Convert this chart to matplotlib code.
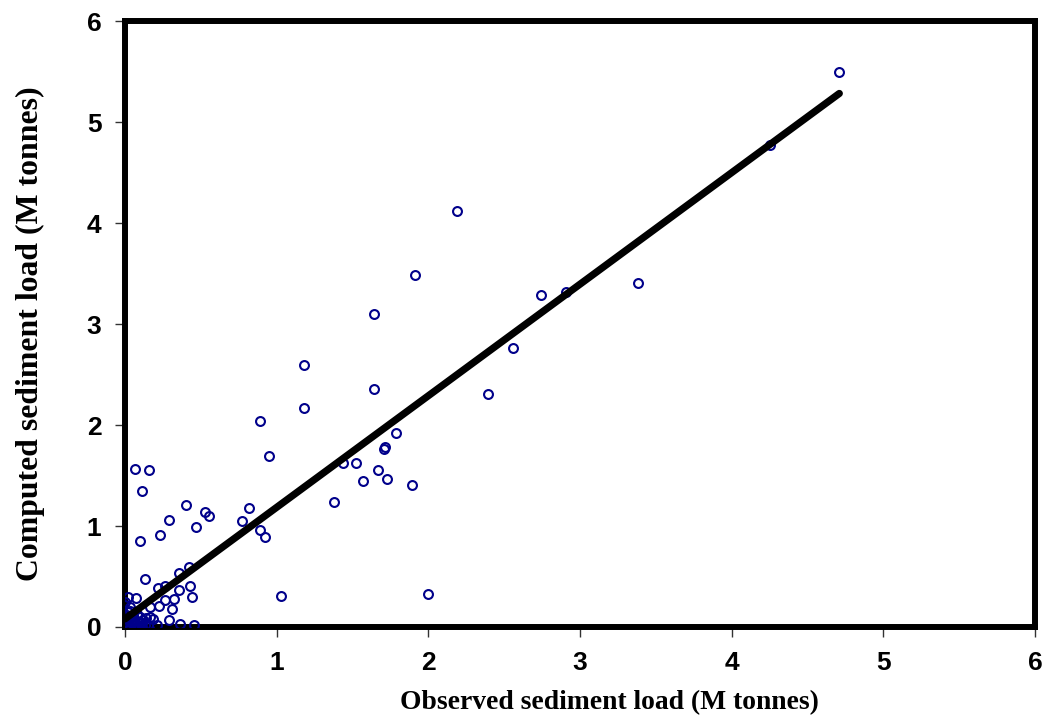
import matplotlib
matplotlib.use("Agg")
import matplotlib.pyplot as plt
import numpy as np

# Observed vs computed sediment load (million tonnes)
observed = [
    4.71, 4.25, 3.385, 2.91, 2.745, 2.56, 2.395, 2.19, 1.915, 1.64, 1.645,
    1.18, 1.18, 1.79, 1.717, 1.705, 1.67, 1.525, 1.44, 1.57, 1.73, 1.89,
    1.38, 1.995, 1.03, 0.89, 0.95, 0.82, 0.77, 0.89, 0.925, 0.557, 0.53,
    0.405, 0.47, 0.287, 0.23, 0.096, 0.063, 0.16, 0.115,
    0.135, 0.22, 0.267, 0.353, 0.42, 0.43, 0.353, 0.445, 0.326, 0.267,
    0.227, 0.168, 0.313, 0.07, 0.023, 0.003, 0.036, 0.023, 0.168, 0.188,
    0.214, 0.287, 0.36, 0.458, 0.155, 0.10,
    0.01, 0.02, 0.03, 0.04, 0.05, 0.06, 0.07, 0.08, 0.09, 0.10, 0.11,
    0.12, 0.13, 0.02, 0.05, 0.0, 0.015, 0.035, 0.08, 0.14, 0.06, 0.11,
    0.03,
]
computed = [
    5.50, 4.77, 3.41, 3.32, 3.29, 2.76, 2.31, 4.12, 3.49, 3.10, 2.36,
    2.59, 2.17, 1.92, 1.78, 1.76, 1.55, 1.62, 1.62, 1.45, 1.47, 1.41,
    1.24, 0.33, 0.31, 2.04, 1.69, 1.18, 1.05, 0.96, 0.89, 1.10, 1.14,
    1.21, 0.99, 1.06, 0.91, 0.85, 1.56, 1.55, 1.35,
    0.48, 0.39, 0.41, 0.53, 0.59, 0.41, 0.37, 0.30, 0.28, 0.27,
    0.21, 0.20, 0.18, 0.29, 0.30, 0.25, 0.20, 0.15, 0.10, 0.08,
    0.02, 0.07, 0.03, 0.02, 0.02, 0.05,
    0.01, 0.03, 0.0, 0.05, 0.02, 0.08, 0.03, 0.06, 0.01, 0.10, 0.04,
    0.07, 0.02, 0.08, 0.12, 0.05, 0.0, 0.10, 0.13, 0.09, 0.0, 0.0,
    0.16,
]

# Fitted trend line
fit_slope = 1.105
fit_intercept = 0.08
fit_range = [0.0, 4.71]

x_ticks = [0, 1, 2, 3, 4, 5, 6]
y_ticks = [0, 1, 2, 3, 4, 5, 6]

fig = plt.figure(figsize=(10.52, 7.22), dpi=100)
ax = fig.add_axes([0.1188, 0.1316, 0.865, 0.839])

ax.plot(observed, computed, linestyle="none", marker="o",
        markersize=6.4, markerfacecolor="none", markeredgecolor="#00008B",
        markeredgewidth=1.5, zorder=3)

fx = np.array(fit_range)
ax.plot(fx, fit_slope * fx + fit_intercept, color="black", linewidth=5.2,
        solid_capstyle="round", zorder=4)

ax.set_xlim(0, 6)
ax.set_ylim(0, 6)
ax.set_xticks(x_ticks)
ax.set_yticks(y_ticks)
ax.set_xticklabels([str(t) for t in x_ticks])
ax.set_yticklabels([str(t) for t in y_ticks])

for sp in ax.spines.values():
    sp.set_linewidth(4.3)
    sp.set_color("black")

ax.tick_params(direction="out", length=7, width=1, color="#333333", pad=10,
               top=False, right=False)
for lab in ax.get_xticklabels() + ax.get_yticklabels():
    lab.set_fontfamily("Liberation Sans")
    lab.set_fontweight("bold")
    lab.set_fontsize(19)

ax.set_xlabel("Observed sediment load (M tonnes)", family="Liberation Serif",
              fontweight="bold", fontsize=19.9)
ax.set_ylabel("Computed sediment load (M tonnes)", family="Liberation Serif",
              fontweight="bold", fontsize=22.9)
ax.xaxis.set_label_coords(0.532, -0.125)
ax.yaxis.set_label_coords(-0.104, 0.4835)
ax.xaxis.label.set_va("center")
ax.yaxis.label.set_va("center")

fig.savefig("out.png", dpi=100, facecolor="white")
